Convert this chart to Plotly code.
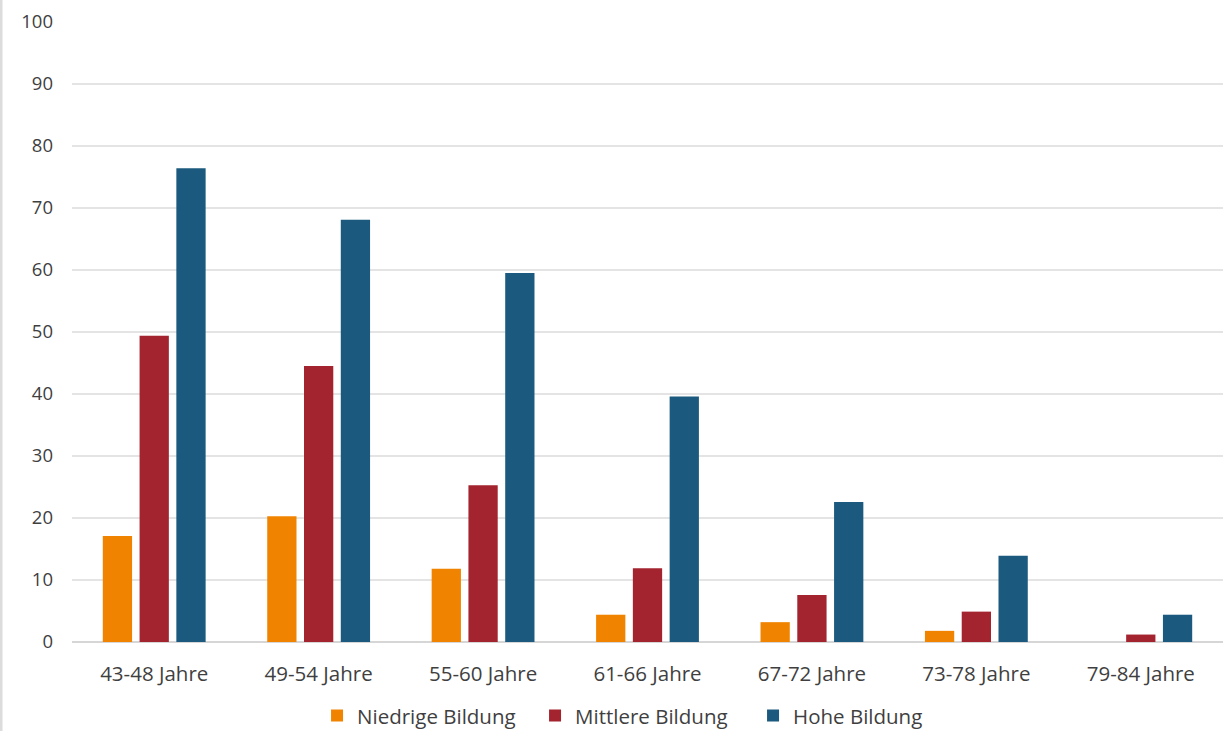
import plotly.graph_objects as go

categories = ["43-48 Jahre", "49-54 Jahre", "55-60 Jahre", "61-66 Jahre",
              "67-72 Jahre", "73-78 Jahre", "79-84 Jahre"]
niedrig = [17.1, 20.3, 11.8, 4.4, 3.2, 1.8, 0.0]
mittel = [49.4, 44.5, 25.3, 11.9, 7.6, 4.9, 1.2]
hoch = [76.4, 68.1, 59.5, 39.6, 22.6, 13.9, 4.4]
series_names = ["Niedrige Bildung", "Mittlere Bildung", "Hohe Bildung"]
colors = ["#F08400", "#A3232F", "#1B5A7E"]
y_ticks = [0, 10, 20, 30, 40, 50, 60, 70, 80, 90, 100]

FONT = "'Open Sans', Lato, sans-serif"
TXT = "#3f3f3f"

fig = go.Figure()
for name, vals, col in zip(series_names, [niedrig, mittel, hoch], colors):
    fig.add_trace(go.Bar(x=categories, y=vals, name=name,
                         marker=dict(color=col, line=dict(width=0))))

fig.update_layout(
    width=1223, height=731,
    margin=dict(l=72, r=0, t=22, b=89, autoexpand=False),
    paper_bgcolor="white", plot_bgcolor="white",
    barmode="group", bargap=0.329, bargroupgap=0.204,
    font=dict(family=FONT, size=19, color=TXT),
    showlegend=True,
    legend=dict(orientation="h", x=0.497, xanchor="center", y=-0.119, yanchor="middle",
                font=dict(size=20.5, color=TXT), itemwidth=30, traceorder="normal",
                entrywidth=173),
)
fig.update_xaxes(showgrid=False, showline=False, zeroline=False,
                 ticks="", ticklabelstandoff=17, tickfont=dict(size=20.5, color=TXT))
fig.update_yaxes(range=[0, 100], tickvals=y_ticks, showgrid=True, gridcolor="#e4e4e4",
                 gridwidth=1.5, zeroline=True, zerolinecolor="#d6d6d6", zerolinewidth=1.5,
                 showline=False, ticks="", ticklabelstandoff=18,
                 tickfont=dict(size=18.5, color=TXT))
fig.add_shape(type="line", xref="paper", yref="paper",
              x0=-71/1151, x1=-71/1151, y0=-0.2, y1=1.1,
              line=dict(color="#dcdcdc", width=3))

fig.write_html("out.html")
